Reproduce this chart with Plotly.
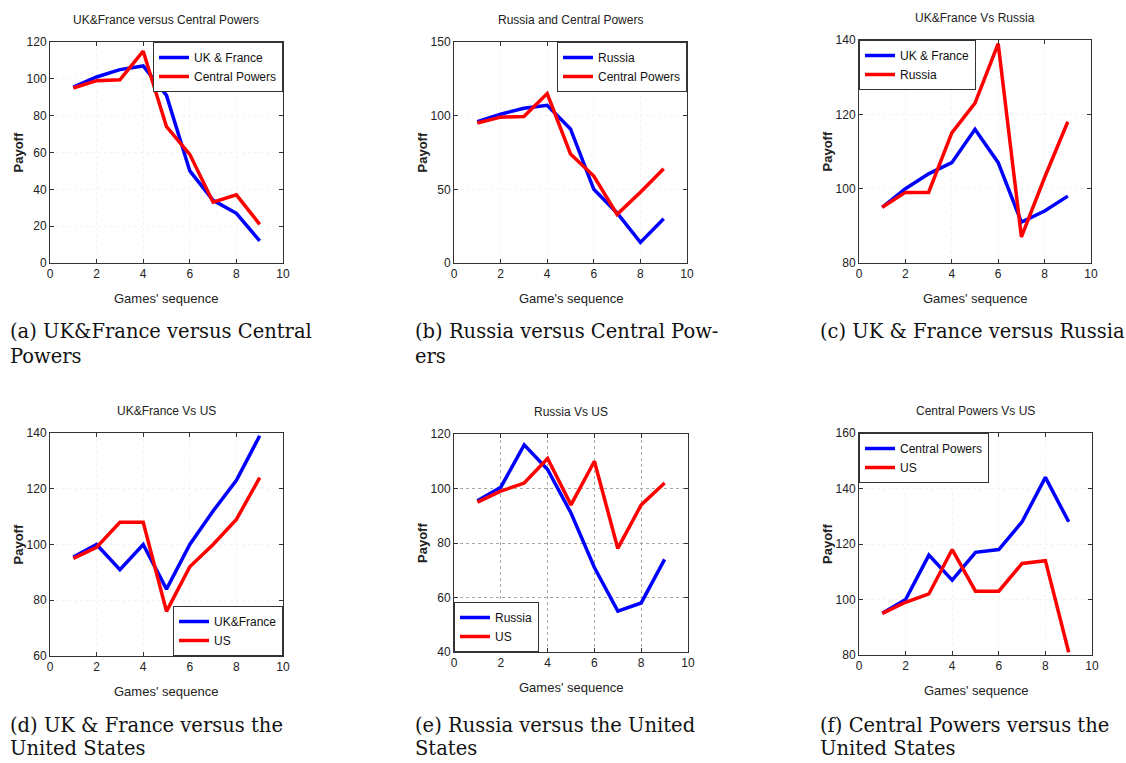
import plotly.graph_objects as go

W, H = 1126, 763
games = [1, 2, 3, 4, 5, 6, 7, 8, 9]

# (a) UK&France versus Central Powers
a_ukfr = [95.5, 101, 105, 107, 91, 50, 34, 27, 12]
a_cp = [95, 99, 99.5, 115, 74, 59, 33, 37, 21]
# (b) Russia and Central Powers
b_russia = [96, 101, 105, 107, 91, 50, 34, 14, 30]
b_cp = [95, 99, 99.5, 115, 74, 59, 33, 48, 64]
# (c) UK&France Vs Russia
c_ukfr = [95, 100, 104, 107, 116, 107, 91, 94, 98]
c_russia = [95, 99, 99, 115, 123, 139, 87, 103, 118]
# (d) UK&France Vs US
d_ukfr = [95.5, 100, 91, 100, 84, 100, 112, 123, 139]
d_us = [95, 99, 108, 108, 76, 92, 100, 109, 124]
# (e) Russia Vs US
e_russia = [95.5, 100.5, 116, 107, 91, 71, 55, 58, 74]
e_us = [95, 99, 102, 111, 94, 110, 78, 94, 102]
# (f) Central Powers Vs US
f_cp = [95, 100, 116, 107, 117, 118, 128, 144, 128]
f_us = [95, 99, 102, 118, 103, 103, 113, 114, 81]

x_ticks = [0, 2, 4, 6, 8, 10]

panels = [
    dict(title="UK&France versus Central Powers", xlabel="Games' sequence",
         series=[("UK & France", a_ukfr, "#0000ff"), ("Central Powers", a_cp, "#ff0000")],
         yr=[0, 120], yt=[0, 20, 40, 60, 80, 100, 120],
         box=(50, 283, 42, 263), leg=(283, 42, "right", "top"),
         cap=["(a) UK&France versus Central", "Powers"], capx=8, capy=(332, 356), grid=False),
    dict(title="Russia and Central Powers", xlabel="Game's sequence",
         series=[("Russia", b_russia, "#0000ff"), ("Central Powers", b_cp, "#ff0000")],
         yr=[0, 150], yt=[0, 50, 100, 150],
         box=(454, 687, 42, 263), leg=(687, 42, "right", "top"),
         cap=["(b) Russia versus Central Pow-", "ers"], capx=413, capy=(332, 356), grid=False),
    dict(title="UK&France Vs Russia", xlabel="Games' sequence",
         series=[("UK & France", c_ukfr, "#0000ff"), ("Russia", c_russia, "#ff0000")],
         yr=[80, 140], yt=[80, 100, 120, 140],
         box=(859, 1091, 40, 263), leg=(859, 40, "left", "top"),
         cap=["(c) UK & France versus Russia"], capx=818, capy=(332,), grid=False),
    dict(title="UK&France Vs US", xlabel="Games' sequence",
         series=[("UK&France", d_ukfr, "#0000ff"), ("US", d_us, "#ff0000")],
         yr=[60, 140], yt=[60, 80, 100, 120, 140],
         box=(50, 283, 433, 656), leg=(283, 656, "right", "bottom"),
         cap=["(d) UK & France versus the", "United States"], capx=8, capy=(725, 748), grid=False),
    dict(title="Russia Vs US", xlabel="Games' sequence",
         series=[("Russia", e_russia, "#0000ff"), ("US", e_us, "#ff0000")],
         yr=[40, 120], yt=[40, 60, 80, 100, 120],
         box=(454, 688, 434, 652), leg=(454, 652, "left", "bottom"),
         cap=["(e) Russia versus the United", "States"], capx=413, capy=(725, 748), grid=True),
    dict(title="Central Powers Vs US", xlabel="Games' sequence",
         series=[("Central Powers", f_cp, "#0000ff"), ("US", f_us, "#ff0000")],
         yr=[80, 160], yt=[80, 100, 120, 140, 160],
         box=(859, 1092, 433, 655), leg=(859, 433, "left", "top"),
         cap=["(f) Central Powers versus the", "United States"], capx=818, capy=(725, 748), grid=False),
]

fig = go.Figure()
annotations = []
layout = {}
sans = "Liberation Sans, Arial, sans-serif"
tickfont = dict(family=sans, size=12, color="#222")

for i, p in enumerate(panels):
    n = "" if i == 0 else str(i + 1)
    x0, x1, y0, y1 = p["box"]
    xa, ya = "x" + n, "y" + n
    legname = "legend" + n
    for name, vals, col in p["series"]:
        fig.add_trace(go.Scatter(x=games, y=vals, mode="lines", name=name,
                                 line=dict(color=col, width=3.5),
                                 xaxis=xa, yaxis=ya, legend=legname))
    gridcol = "#a8a8a8" if p["grid"] else "#f3f3f3"
    common = dict(ticks="inside", ticklen=4, tickcolor="#333",
                  showline=True, linecolor="#333", linewidth=1, mirror="ticks",
                  showgrid=True, gridcolor=gridcol, griddash="dot", gridwidth=1,
                  zeroline=False, tickfont=tickfont, automargin=False)
    layout["xaxis" + n] = dict(domain=[x0 / W, x1 / W], anchor=ya, range=[0, 10],
                               tickvals=x_ticks, **common)
    layout["yaxis" + n] = dict(domain=[1 - y1 / H, 1 - y0 / H], anchor=xa, range=p["yr"],
                               tickvals=p["yt"], **common)
    lx, ly, xanc, yanc = p["leg"]
    layout[legname] = dict(x=lx / W, y=1 - ly / H, xanchor=xanc, yanchor=yanc,
                           bgcolor="white", bordercolor="#333", borderwidth=1,
                           font=dict(family=sans, size=12, color="#111"),
                           itemwidth=30, tracegroupgap=0)
    cx = (x0 + x1) / 2
    annotations.append(dict(text=p["title"], x=cx / W, y=1 - (y0 - 22) / H,
                            xref="paper", yref="paper", showarrow=False,
                            xanchor="center", yanchor="middle",
                            font=dict(family=sans, size=12, color="#222")))
    annotations.append(dict(text=p["xlabel"], x=cx / W, y=1 - (y1 + 35) / H,
                            xref="paper", yref="paper", showarrow=False,
                            xanchor="center", yanchor="middle",
                            font=dict(family=sans, size=13, color="#222")))
    annotations.append(dict(text="<b>Payoff</b>", x=(x0 - 32) / W, y=1 - ((y0 + y1) / 2) / H,
                            xref="paper", yref="paper", showarrow=False, textangle=-90,
                            xanchor="center", yanchor="middle",
                            font=dict(family=sans, size=13, color="#222")))
    for line, cy in zip(p["cap"], p["capy"]):
        annotations.append(dict(text=line, x=p["capx"] / W, y=1 - cy / H,
                                xref="paper", yref="paper", showarrow=False,
                                xanchor="left", yanchor="middle",
                                font=dict(family="DejaVu Serif, Liberation Serif, serif",
                                          size=19.5, color="#111")))

fig.update_layout(template="none", width=W, height=H, margin=dict(l=0, r=0, t=0, b=0, pad=0),
                  autosize=False, paper_bgcolor="white", plot_bgcolor="white",
                  showlegend=True, annotations=annotations, **layout)
fig.write_html("out.html", config={"displayModeBar": False},
               post_script="document.body.style.margin='0';document.body.style.overflow='hidden';")
